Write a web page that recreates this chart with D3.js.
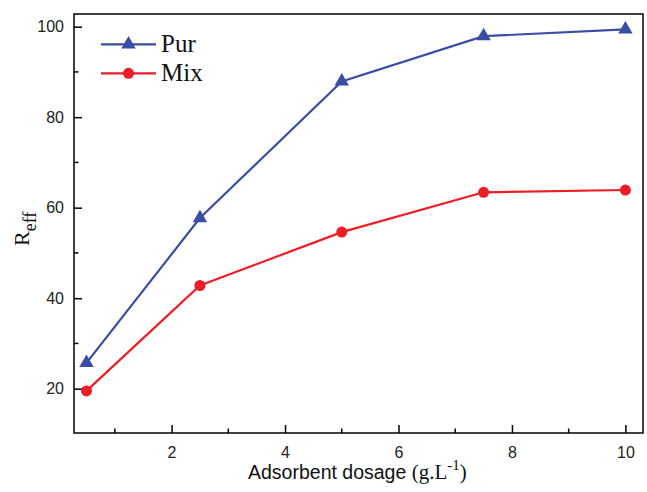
<!DOCTYPE html>
<html>
<head>
<meta charset="utf-8">
<script src="https://cdn.jsdelivr.net/npm/d3@7"></script>
<style>
  body { margin: 0; background: #fff; }
  svg { display: block; }
</style>
</head>
<body>
<div id="chart"></div>
<script>
// dosage values (g/L) and removal efficiency for both series
var dosage = [0.5, 2.5, 5, 7.5, 10];
var purValues = [25.7, 57.7, 87.9, 97.9, 99.4];
var mixValues = [19.5, 42.8, 54.6, 63.4, 63.9];
var xTicks = [2, 4, 6, 8, 10];
var yTicks = [20, 40, 60, 80, 100];

var width = 647, height = 492,
  margin = {top: 14, right: 4, bottom: 59, left: 74};

var w = width - margin.left - margin.right,
  h = height - margin.top - margin.bottom;

var svg = d3.select("#chart").append("svg")
  .attr("width", width)
  .attr("height", height);

var g = svg.append("g")
  .attr("transform", "translate(" + margin.left + "," + margin.top + ")");

var x = d3.scaleLinear().domain([0.28, 10.31]).range([0, w]);
var y = d3.scaleLinear().domain([10.2, 102.8]).range([h, 0]);

// frame
g.append("rect")
  .attr("width", w)
  .attr("height", h)
  .attr("fill", "none")
  .attr("stroke", "#000")
  .attr("stroke-width", 1.5);

// ticks point inward, minors at the half steps
var xMinor = d3.range(1, 11, 2);
var yMinor = d3.range(30, 101, 20);

var xAxis = g.append("g").attr("transform", "translate(0," + h + ")")
  .call(d3.axisBottom(x).tickValues(xTicks).tickSize(-8).tickPadding(14).tickFormat(d3.format("d")));
var yAxis = g.append("g")
  .call(d3.axisLeft(y).tickValues(yTicks).tickSize(-8).tickPadding(10).tickFormat(d3.format("d")));

[xAxis, yAxis].forEach(function (a) {
  a.select(".domain").remove();
  a.selectAll(".tick line").attr("stroke", "#000").attr("stroke-width", 1.5);
  a.selectAll(".tick text")
    .attr("font-family", "'Liberation Sans', Arial, sans-serif")
    .attr("font-size", 16)
    .attr("fill", "#222");
});

g.selectAll(".xminor").data(xMinor).enter().append("line")
  .attr("x1", x).attr("x2", x)
  .attr("y1", h).attr("y2", h - 4.5)
  .attr("stroke", "#000").attr("stroke-width", 1.5);

g.selectAll(".yminor").data(yMinor).enter().append("line")
  .attr("y1", y).attr("y2", y)
  .attr("x1", 0).attr("x2", 4.5)
  .attr("stroke", "#000").attr("stroke-width", 1.5);

var series = [
  {name: "Pur", values: purValues, color: "#3a4da5", marker: d3.symbolTriangle},
  {name: "Mix", values: mixValues, color: "#ee1c25", marker: d3.symbolCircle}
];

var line = d3.line()
  .x(function (d) { return x(d[0]); })
  .y(function (d) { return y(d[1]); });

series.forEach(function (s) {
  var pts = dosage.map(function (d, i) { return [d, s.values[i]]; });
  g.append("path")
    .datum(pts)
    .attr("fill", "none")
    .attr("stroke", s.color)
    .attr("stroke-width", 2.2)
    .attr("d", line);
  g.selectAll(".pt-" + s.name).data(pts).enter().append("path")
    .attr("transform", function (d) { return "translate(" + x(d[0]) + "," + y(d[1]) + ")"; })
    .attr("d", d3.symbol().type(s.marker).size(s.marker === d3.symbolCircle ? 95 : 90))
    .attr("fill", s.color);
});

// legend
var legend = svg.append("g");
series.forEach(function (s, i) {
  var ly = 44.3 + i * 29;
  legend.append("line")
    .attr("x1", 101).attr("x2", 156)
    .attr("y1", ly).attr("y2", ly)
    .attr("stroke", s.color).attr("stroke-width", 2.2);
  legend.append("path")
    .attr("transform", "translate(128.5," + ly + ")")
    .attr("d", d3.symbol().type(s.marker).size(s.marker === d3.symbolCircle ? 95 : 90))
    .attr("fill", s.color);
  legend.append("text")
    .attr("x", 161)
    .attr("y", ly + 8)
    .attr("font-family", "'Liberation Serif', 'Times New Roman', serif")
    .attr("font-size", 25)
    .attr("fill", "#111")
    .text(s.name);
});

// x axis title
var xt = svg.append("text")
  .attr("x", 248)
  .attr("y", 479)
  .attr("fill", "#111");
xt.append("tspan")
  .attr("font-family", "'Liberation Sans', Arial, sans-serif")
  .attr("font-size", 19.5)
  .text("Adsorbent dosage ");
xt.append("tspan")
  .attr("font-family", "'Liberation Serif', 'Times New Roman', serif")
  .attr("font-size", 21)
  .text("(g.L");
xt.append("tspan")
  .attr("font-family", "'Liberation Serif', 'Times New Roman', serif")
  .attr("font-size", 15)
  .attr("dy", -9)
  .text("-1");
xt.append("tspan")
  .attr("font-family", "'Liberation Serif', 'Times New Roman', serif")
  .attr("font-size", 21)
  .attr("dy", 9)
  .text(")");

// y axis title
var yt = svg.append("text")
  .attr("transform", "translate(29,246) rotate(-90)")
  .attr("font-family", "'Liberation Serif', 'Times New Roman', serif")
  .attr("fill", "#111");
yt.append("tspan").attr("font-size", 22).text("R");
yt.append("tspan").attr("font-size", 18).attr("dy", 7).text("eff");
</script>
</body>
</html>
